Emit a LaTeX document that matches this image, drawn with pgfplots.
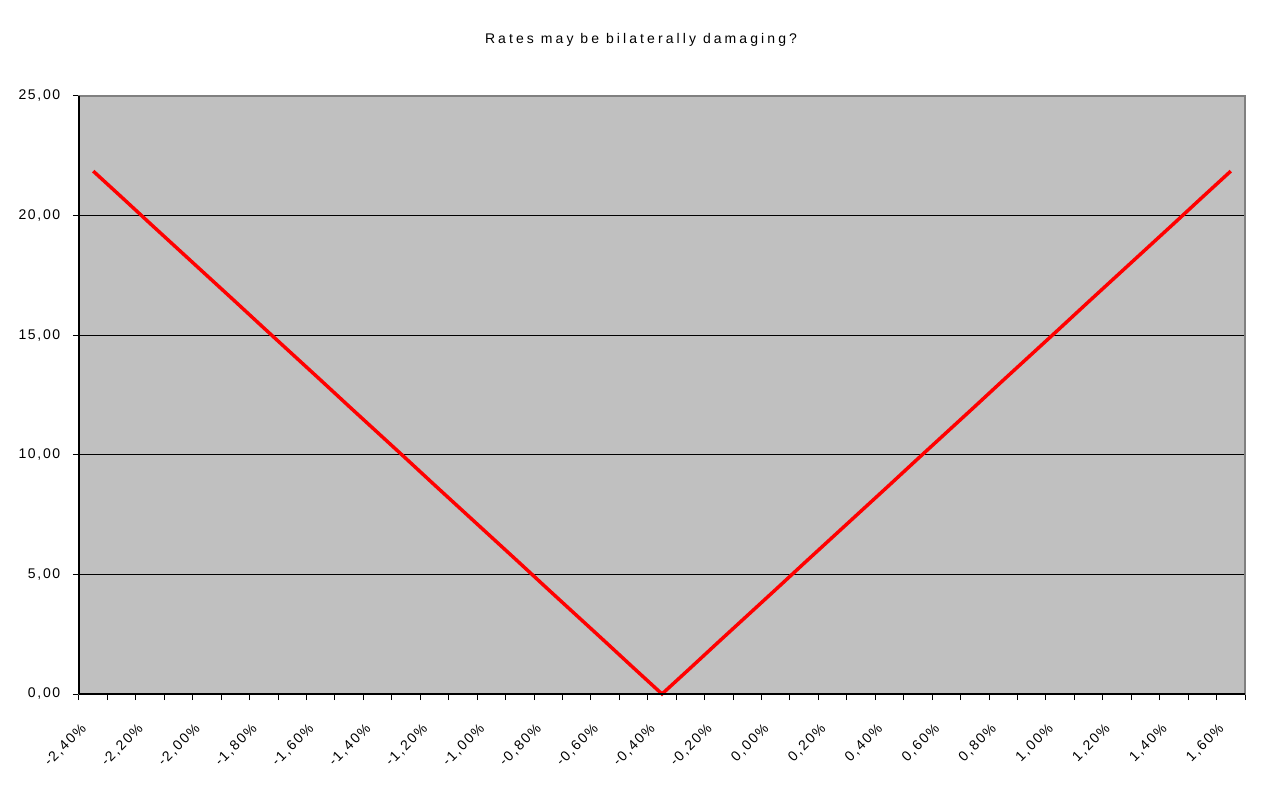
\documentclass[border=0pt]{standalone}
\usepackage{fontspec}
\setmainfont{Liberation Sans}[LetterSpace=12]
\usepackage{pgfplots}
\pgfplotsset{compat=1.18}
\usetikzlibrary{calc}
\definecolor{plotgrey}{HTML}{C0C0C0}
\definecolor{framegrey}{HTML}{808080}

\begin{document}
\begin{tikzpicture}
\begin{axis}[
  name=ax,
  scale only axis,
  width=874.5pt, height=448.5pt,
  axis background/.style={fill=plotgrey},
  axis line style={framegrey, line width=1pt},
  xmin=-0.5, xmax=40.5,
  ymin=0, ymax=25,
  ytick={0,5,...,25},
  ymajorgrids,
  grid style={black, line width=0.6pt},
  xtick={-0.5,0.5,...,40.5},
  xticklabels={},
  extra x ticks={0,2,...,40},
  extra x tick labels={{-2,40\%},{-2,20\%},{-2,00\%},{-1,80\%},{-1,60\%},{-1,40\%},{-1,20\%},{-1,00\%},{-0,80\%},{-0,60\%},{-0,40\%},{-0,20\%},{0,00\%},{0,20\%},{0,40\%},{0,60\%},{0,80\%},{1,00\%},{1,20\%},{1,40\%},{1,60\%}},
  extra x tick style={major tick length=0pt, grid=none,
    xticklabel style={rotate=45, anchor=north east, xshift=-18.6pt, yshift=-4.6pt}},
  tick align=outside,
  major tick length=4.5pt,
  tick style={black, line width=0.75pt},
  xtick pos=bottom, ytick pos=left,
  tick label style={font=\fontsize{10.5}{12}\selectfont},
  /pgf/number format/.cd, fixed, fixed zerofill, precision=2, use comma, assume math mode=true,
  /pgfplots/.cd,
  yticklabel style={xshift=-6pt},
  clip=false,
]
\addplot[red, line width=2.6pt, mark=none] coordinates {
(0,21.86) (1,20.77) (2,19.67) (3,18.58) (4,17.49) (5,16.40) (6,15.30) (7,14.21)
(8,13.12) (9,12.02) (10,10.93) (11,9.84) (12,8.74) (13,7.65) (14,6.56) (15,5.47)
(16,4.37) (17,3.28) (18,2.19) (19,1.09) (20,0.00) (21,1.09) (22,2.19) (23,3.28)
(24,4.37) (25,5.47) (26,6.56) (27,7.65) (28,8.74) (29,9.84) (30,10.93) (31,12.02)
(32,13.12) (33,14.21) (34,15.30) (35,16.40) (36,17.49) (37,18.58) (38,19.67)
(39,20.77) (40,21.86)
};
\draw[black, line width=1pt] (rel axis cs:0,0) -- (rel axis cs:0,1);
\draw[black, line width=1pt] (rel axis cs:0,0) -- (rel axis cs:1,0);
\node[font=\fontsize{10.5}{12}\selectfont\addfontfeatures{LetterSpace=22}] at (rel axis cs:0.482,1.0936) {Rates may be bilaterally damaging?};
\end{axis}
\pgfresetboundingbox
\path[use as bounding box] ($(ax.south west)+(-59.25pt,-70.5pt)$) rectangle ($(ax.north east)+(17.25pt,72pt)$);
\end{tikzpicture}
\end{document}
